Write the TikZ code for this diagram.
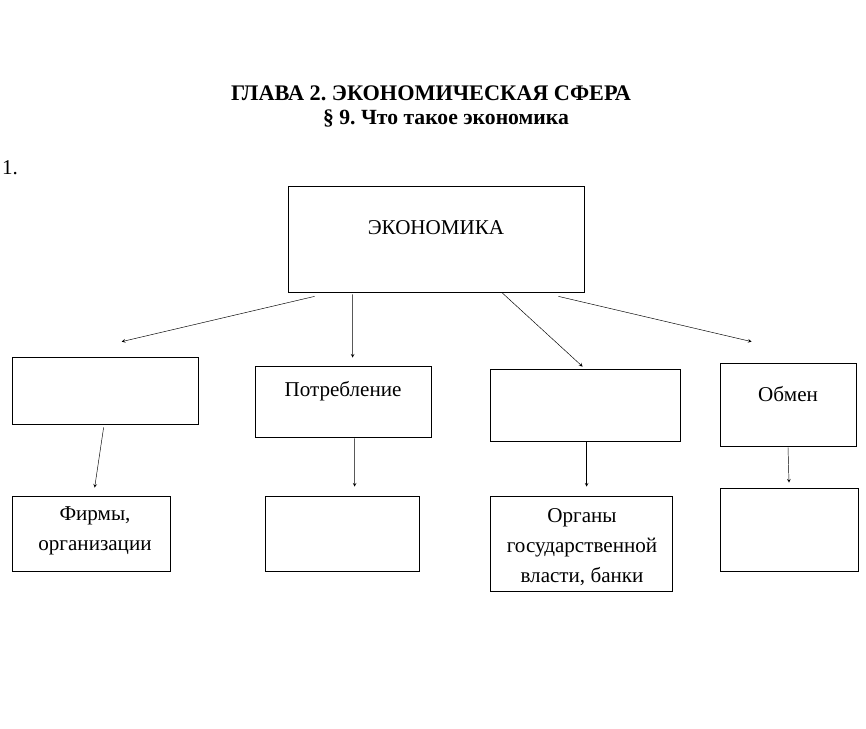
\documentclass[tikz,border=0pt]{standalone}
\usepackage{fontspec}
\setmainfont{Liberation Serif}
\usetikzlibrary{calc}
\frenchspacing
\tikzset{
  cell/.style={draw, line width=0.6pt, inner sep=0pt},
  lbl/.style={font=\fontsize{18}{25.5}\selectfont, align=center},
  link/.style={-stealth, line width=0.4pt},
}
\begin{document}
\begin{tikzpicture}[x=0.03cm,y=-0.03cm]
  \useasboundingbox (0,0) rectangle (866,729);
  % titre
  \node[font=\bfseries\fontsize{19}{22}\selectfont] (glava) at (431,93) {ГЛАВА 2. ЭКОНОМИЧЕСКАЯ СФЕРА};
  \node[font=\bfseries\fontsize{18.5}{22}\selectfont] (para) at (446,118) {§ 9. Что такое экономика};
  \node[font=\fontsize{18}{20}\selectfont, anchor=west] (num) at (-2,168) {1.};
  % cases
  \node[cell, minimum width=8.88cm, minimum height=3.18cm] (eco) at (436,239) {};
  \node[lbl] (ecot) at (436,228) {ЭКОНОМИКА};
  \node[cell, minimum width=5.58cm, minimum height=2.01cm] (boxa) at (105,390.5) {};
  \node[cell, minimum width=5.28cm, minimum height=2.13cm] (boxb) at (343,401.5) {};
  \node[lbl] (boxbt) at (343,391) {Потребление};
  \node[cell, minimum width=5.7cm, minimum height=2.16cm] (boxc) at (585,405) {};
  \node[cell, minimum width=4.08cm, minimum height=2.49cm] (boxd) at (788,404.5) {};
  \node[lbl] (boxdt) at (788,394) {Обмен};
  \node[cell, minimum width=4.74cm, minimum height=2.25cm] (boxe) at (91,533.5) {};
  \node[lbl] (boxet) at (95,531) {Фирмы,\\организации};
  \node[cell, minimum width=4.62cm, minimum height=2.25cm] (boxf) at (342,533.5) {};
  \node[cell, minimum width=5.46cm, minimum height=2.85cm] (boxg) at (581,543.5) {};
  \node[lbl] (boxgt) at (582,547) {Органы\\государственной\\власти, банки};
  \node[cell, minimum width=4.14cm, minimum height=2.49cm] (boxh) at (789,529.5) {};
  % fleches
  \draw[link] ($(eco.south west)+(27,4)$) -- ($(boxa.north west)+(110,-15)$);
  \draw[link] ($(eco.south west)+(65,2)$) -- ($(boxb.north west)+(98,-8)$);
  \draw[link] ($(eco.south west)+(214,0)$) -- ($(boxc.north west)+(93,-2)$);
  \draw[link] ($(eco.south east)+(-26,4)$) -- ($(boxd.north west)+(32,-21)$);
  \draw[link] ($(boxa.south west)+(92,3)$) -- ($(boxe.north west)+(83,-8)$);
  \draw[link] ($(boxb.south west)+(100,1)$) -- ($(boxf.north west)+(90,-9)$);
  \draw[link] ($(boxc.south west)+(97,0)$) -- ($(boxg.north west)+(97,-9)$);
  \draw[link] ($(boxd.south)+(0,1)$) -- ($(boxh.north)+(0,-5)$);
\end{tikzpicture}
\end{document}
